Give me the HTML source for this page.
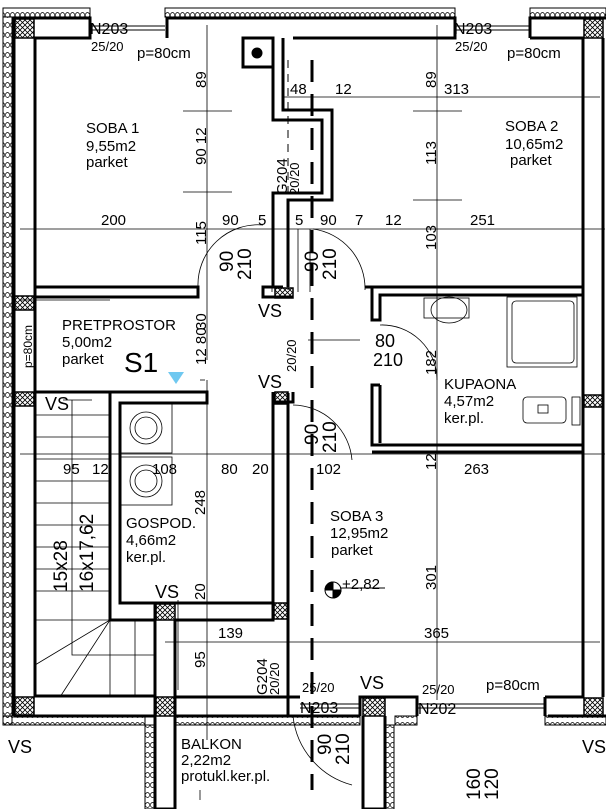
<!DOCTYPE html>
<html><head><meta charset="utf-8"><style>
body{margin:0;background:#fff}
svg{display:block}
text{font-family:"Liberation Sans",sans-serif;fill:#000}
</style></head><body>
<svg width="606" height="809" viewBox="0 0 606 809" xmlns="http://www.w3.org/2000/svg">
<defs>
<pattern id="h" width="5" height="5" patternUnits="userSpaceOnUse"><path d="M0 0L5 5M5 0L0 5" stroke="#000" stroke-width="0.8"/></pattern>
<pattern id="ins" width="10" height="10" patternUnits="userSpaceOnUse"><path d="M0 5Q2.5 0 5 5T10 5M0 5Q2.5 10 5 5T10 5" stroke="#000" fill="none" stroke-width="0.7"/></pattern>
</defs>
<g fill="none" stroke="#000">
<!-- insulation -->
<rect x="3" y="8" width="87" height="9" fill="url(#ins)" stroke-width="1"/>
<rect x="165" y="8" width="290" height="9" fill="url(#ins)" stroke-width="1"/>
<rect x="530" y="8" width="76" height="9" fill="url(#ins)" stroke-width="1"/>
<rect x="3" y="17" width="9" height="708" fill="url(#ins)" stroke-width="1"/>
<rect x="3" y="716" width="142" height="9" fill="url(#ins)" stroke-width="1"/>
<rect x="175" y="716" width="185" height="9" fill="url(#ins)" stroke-width="1"/>
<rect x="395" y="716" width="22" height="9" fill="url(#ins)" stroke-width="1"/>
<rect x="545" y="716" width="61" height="9" fill="url(#ins)" stroke-width="1"/>
<rect x="145" y="725" width="9" height="84" fill="url(#ins)" stroke-width="1"/>
<rect x="385" y="725" width="9" height="84" fill="url(#ins)" stroke-width="1"/>
<!-- outer wall -->
<g stroke-width="3">
<path d="M14 716V18H90V38H35V696H155"/>
<path d="M167 38V18H455V38H293"/>
<path d="M530 38V18H606"/>
<path d="M530 38H583V697H545"/>
<path d="M603 38V697"/>
<path d="M14 716H155"/>
<path d="M360 716V697H417V716"/>
<path d="M545 716V697"/>
<path d="M548 716H606"/>
<!-- soba1 -->
<path d="M35 287H198V297H35"/>
<rect x="243" y="38" width="30" height="29"/>
<path d="M273 38V120H322V193H273V287"/>
<path d="M283 38V110H332V200H288V287"/>
<path d="M283 287H263V297H293"/>
<!-- kupaona / soba2 -->
<path d="M365 287H583M372 287V320H380V295H583M380 385H372V445H583"/>
<path d="M380 295V320M380 385V443"/>
<path d="M372 452H583"/>
<!-- soba3 left -->
<path d="M288 393V697H300"/>
<!-- gospod -->
<path d="M110 392H207V403H120V603H273V402H293V392M273 392V620H175"/>
<path d="M110 392V620H155"/>
<path d="M155 603V809H175V620"/>
<path d="M175 697H288V716H360"/>
<path d="M35 392H110"/>
<path d="M363 716V809H385V716"/>
<path d="M175 716H288"/>
</g>
<!-- hatch columns -->
<g stroke-width="1.5">
<rect x="15" y="19" width="19" height="19" fill="url(#h)"/>
<rect x="584" y="19" width="19" height="19" fill="url(#h)"/>
<rect x="15" y="296" width="19" height="14" fill="url(#h)"/>
<rect x="15" y="392" width="19" height="14" fill="url(#h)"/>
<rect x="275" y="288" width="18" height="10" fill="url(#h)"/>
<rect x="275" y="392" width="13" height="12" fill="url(#h)"/>
<rect x="584" y="395" width="19" height="12" fill="url(#h)"/>
<rect x="156" y="604" width="19" height="16" fill="url(#h)"/>
<rect x="274" y="603" width="14" height="16" fill="url(#h)"/>
<rect x="15" y="697" width="19" height="18" fill="url(#h)"/>
<rect x="156" y="697" width="19" height="19" fill="url(#h)"/>
<rect x="363" y="698" width="22" height="18" fill="url(#h)"/>
<rect x="584" y="698" width="19" height="18" fill="url(#h)"/>
</g>
<!-- windows -->
<g stroke-width="1">
<path d="M90 26H165M90 30H165M455 26H530M455 30H530M300 704H360M300 708H360M417 704H545M417 708H545"/>
</g>
<!-- dashed axis -->
<path d="M312 60V790" stroke-width="3" stroke-dasharray="22 12"/>
<path d="M288 60V290" stroke-width="1" stroke-dasharray="8 6"/>
<!-- dimension lines -->
<g stroke-width="0.8">
<path d="M20 229H605M283 97H600M20 454H605M165 642H600"/>
<path d="M207 25V360M207 380V740M437 25V700M200 790V800"/>
<path d="M183 111H232M183 192H232M413 111H462M413 200H462"/>
<path d="M272 229V292M298 229V292M310 229V292"/>
<path d="M20 300H110"/>
<path d="M200 380H205"/>
<path d="M308 340H360M63 400H92"/>
<!-- stairs -->
<path d="M35 415H110M35 437H110M35 459H110M35 481H110M35 503H110M35 525H110M35 547H110M35 569H110M35 591H110M35 620H110"/>
<path d="M72 400V655H155M135 620V697M110 620V697M35 665L110 620L60 697"/>
<!-- door arcs -->
<path d="M198 287A60 60 0 0 1 263 225" />
<path d="M313 229A60 60 0 0 1 365 290"/>
<path d="M380 325A55 55 0 0 1 437 380"/>
<path d="M293 405A60 60 0 0 1 352 460"/>
<path d="M293 716A80 80 0 0 0 352 785"/>
<path d="M178 600V690"/>
<!-- fixtures -->
<rect x="120" y="403" width="52" height="50"/><circle cx="146" cy="428" r="16"/><circle cx="146" cy="428" r="11"/>
<rect x="120" y="457" width="52" height="48"/><circle cx="146" cy="481" r="16"/><circle cx="146" cy="481" r="11"/>
<rect x="424" y="298" width="45" height="20"/><ellipse cx="449" cy="310" rx="18" ry="13"/>
<rect x="507" y="297" width="70" height="70"/><rect x="512" y="301" width="62" height="62" rx="4"/>
<rect x="523" y="397" width="43" height="26" rx="4"/><rect x="538" y="405" width="10" height="8"/>
<rect x="572" y="397" width="8" height="28"/>
<rect x="249" y="45" width="17" height="17" stroke-width="0"/>
</g>
<circle cx="257" cy="53" r="5" fill="#000"/>
<circle cx="333" cy="590" r="8" fill="#fff" stroke="#000"/>
<path d="M333 590L333 582A8 8 0 0 0 325 590Z M333 590L341 590A8 8 0 0 1 333 598Z" fill="#000"/>
<path d="M340 588H385" stroke="#000" stroke-width="1"/>
</g>
<polygon points="168,372 184,372 176,384" fill="#6fc8f0"/>
<g font-size="15">
<text x="86" y="133">SOBA 1</text><text x="86" y="151">9,55m2</text><text x="86" y="167">parket</text>
<text x="505" y="131">SOBA 2</text><text x="505" y="149">10,65m2</text><text x="510" y="165">parket</text>
<text x="62" y="330">PRETPROSTOR</text><text x="62" y="347">5,00m2</text><text x="62" y="364">parket</text>
<text x="444" y="389">KUPAONA</text><text x="444" y="406">4,57m2</text><text x="444" y="423">ker.pl.</text>
<text x="126" y="528">GOSPOD.</text><text x="126" y="545">4,66m2</text><text x="126" y="562">ker.pl.</text>
<text x="330" y="521">SOBA 3</text><text x="330" y="538">12,95m2</text><text x="331" y="555">parket</text>
<text x="181" y="749">BALKON</text><text x="181" y="765">2,22m2</text><text x="181" y="781">protukl.ker.pl.</text>
<text x="101" y="225">200</text><text x="222" y="225">90</text><text x="258" y="225">5</text><text x="295" y="225">5</text><text x="320" y="225">90</text><text x="355" y="225">7</text><text x="385" y="225">12</text><text x="470" y="225">251</text>
<text x="290" y="94">48</text><text x="335" y="94">12</text><text x="444" y="94">313</text>
<text x="63" y="474">95</text><text x="92" y="474">12</text><text x="152" y="474">108</text><text x="221" y="474">80</text><text x="252" y="474">20</text><text x="316" y="474">102</text><text x="464" y="474">263</text>
<text x="218" y="638">139</text><text x="424" y="638">365</text>
<text x="137" y="58">p=80cm</text><text x="507" y="58">p=80cm</text><text x="486" y="690">p=80cm</text>
<text x="342" y="589">+2,82</text>
<text x="90" y="34" font-size="16">N203</text><text x="454" y="34" font-size="16">N203</text>
<text x="300" y="713" font-size="16">N203</text><text x="418" y="714" font-size="16">N202</text>
<text x="375" y="347" font-size="18">80</text><text x="373" y="366" font-size="18">210</text>
</g>
<g font-size="13">
<text x="91" y="51">25/20</text><text x="455" y="51">25/20</text><text x="302" y="692">25/20</text><text x="422" y="694">25/20</text>
</g>
<g font-size="18">
<text x="45" y="410">VS</text><text x="258" y="317">VS</text><text x="258" y="388">VS</text><text x="155" y="598">VS</text><text x="360" y="689">VS</text><text x="8" y="753">VS</text><text x="582" y="753">VS</text>
</g>
<text x="124" y="372" font-size="28">S1</text>
<g font-size="15">
<text transform="translate(206,88) rotate(-90)">89</text>
<text transform="translate(206,165) rotate(-90)">90 12</text>
<text transform="translate(206,245) rotate(-90)">115</text>
<text transform="translate(206,330) rotate(-90)">30</text>
<text transform="translate(206,365) rotate(-90)">12 80</text>
<text transform="translate(436,88) rotate(-90)">89</text>
<text transform="translate(436,165) rotate(-90)">113</text>
<text transform="translate(436,250) rotate(-90)">103</text>
<text transform="translate(436,375) rotate(-90)">182</text>
<text transform="translate(436,470) rotate(-90)">12</text>
<text transform="translate(436,590) rotate(-90)">301</text>
<text transform="translate(205,515) rotate(-90)">248</text>
<text transform="translate(205,600) rotate(-90)">20</text>
<text transform="translate(205,668) rotate(-90)">95</text>
<text transform="translate(32,368) rotate(-90)" font-size="12">p=80cm</text>
<text transform="translate(287,195) rotate(-90)">G204</text>
<text transform="translate(299,195) rotate(-90)" font-size="13">20/20</text>
<text transform="translate(267,695) rotate(-90)">G204</text>
<text transform="translate(279,695) rotate(-90)" font-size="13">20/20</text>
<text transform="translate(296,372) rotate(-90)" font-size="13">20/20</text>
</g>
<g font-size="19">
<text transform="translate(233,272) rotate(-90)">90</text><text transform="translate(251,280) rotate(-90)">210</text>
<text transform="translate(318,272) rotate(-90)">90</text><text transform="translate(336,280) rotate(-90)">210</text>
<text transform="translate(318,445) rotate(-90)">90</text><text transform="translate(336,453) rotate(-90)">210</text>
<text transform="translate(331,755) rotate(-90)">90</text><text transform="translate(349,765) rotate(-90)">210</text>
<text transform="translate(480,800) rotate(-90)">160</text><text transform="translate(498,800) rotate(-90)">120</text>
<text transform="translate(67,592) rotate(-90)">15x28</text><text transform="translate(93,592) rotate(-90)">16x17,62</text>
</g>
</svg>
</body></html>
